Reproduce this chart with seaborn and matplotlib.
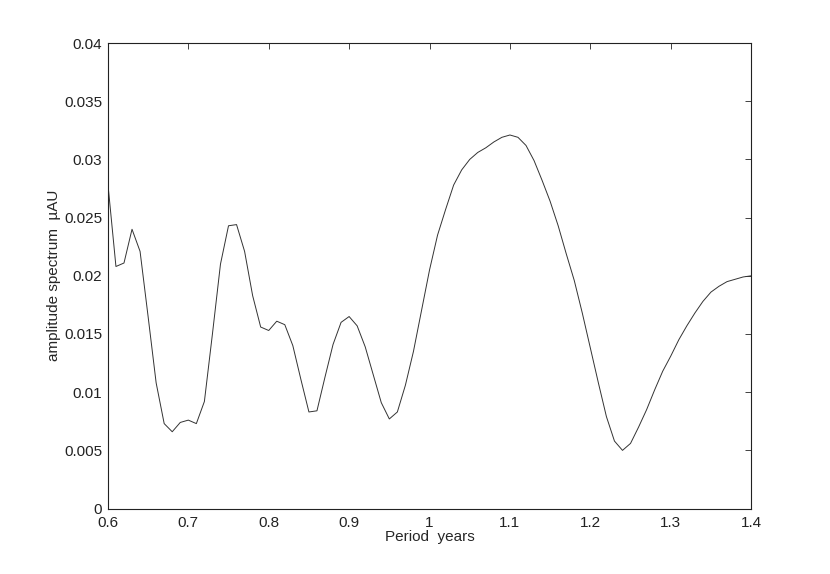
import matplotlib
matplotlib.use('Agg')
import matplotlib.pyplot as plt
import pandas as pd
import seaborn as sns


periods = [round(0.60 + 0.01 * i, 2) for i in range(81)]

amplitude = [
  0.0279, 0.0208, 0.0211, 0.0240, 0.0221, 0.0165, 0.0108, 0.0073, 0.0066, 0.0074,
  0.0076, 0.0073, 0.0092, 0.0150, 0.0210, 0.0243, 0.0244, 0.0221, 0.0183, 0.0156,
  0.0153, 0.0161, 0.0158, 0.0140, 0.0111, 0.0083, 0.0084, 0.0113, 0.0141, 0.0160,
  0.0165, 0.0157, 0.0139, 0.0115, 0.0091, 0.0077, 0.0083, 0.0106, 0.0135, 0.0170,
  0.0205, 0.0235, 0.0257, 0.0278, 0.0291, 0.0300, 0.0306, 0.0310, 0.0315, 0.0319,
  0.0321, 0.0319, 0.0312, 0.0299, 0.0282, 0.0264, 0.0243, 0.0219, 0.0196, 0.0168,
  0.0138, 0.0108, 0.0079, 0.0058, 0.0050, 0.0056, 0.0070, 0.0085, 0.0102, 0.0118,
  0.0131, 0.0145, 0.0157, 0.0168, 0.0178, 0.0186, 0.0191, 0.0195, 0.0197, 0.0199,
  0.0200,
]

x_ticks = [0.6, 0.7, 0.8, 0.9, 1.0, 1.1, 1.2, 1.3, 1.4]
x_labels = ['0.6', '0.7', '0.8', '0.9', '1', '1.1', '1.2', '1.3', '1.4']
y_ticks = [0, 0.005, 0.01, 0.015, 0.02, 0.025, 0.03, 0.035, 0.04]
y_labels = ['0', '0.005', '0.01', '0.015', '0.02', '0.025', '0.03', '0.035', '0.04']


sns.set_style('white')
plt.rcParams['font.family'] = ['Liberation Sans', 'DejaVu Sans']

df = pd.DataFrame({'period': periods, 'amplitude': amplitude})

fig = plt.figure(figsize=(8.3, 5.74), dpi=100)
ax = fig.add_axes([0.130, 0.114, 0.775, 0.811])

sns.lineplot(data=df, x='period', y='amplitude', color='#333333', linewidth=0.7, ax=ax)

ax.set_xlim(0.6, 1.4)
ax.set_ylim(0, 0.04)
ax.set_xticks(x_ticks)
ax.set_xticklabels(x_labels)
ax.set_yticks(y_ticks)
ax.set_yticklabels(y_labels)
ax.tick_params(direction='in', length=4.5, width=0.6, colors='#222222',
               labelsize=11, top=True, right=True, pad=4)
ax.tick_params(axis='x', pad=5)
for sp in ax.spines.values():
  sp.set_color('#222222')
  sp.set_linewidth(0.8)

ax.set_xlabel('Period  years', fontsize=11, labelpad=0)
ax.set_ylabel('amplitude spectrum  \u00b5AU', fontsize=11, labelpad=2)

fig.savefig('out.png', dpi=100)
